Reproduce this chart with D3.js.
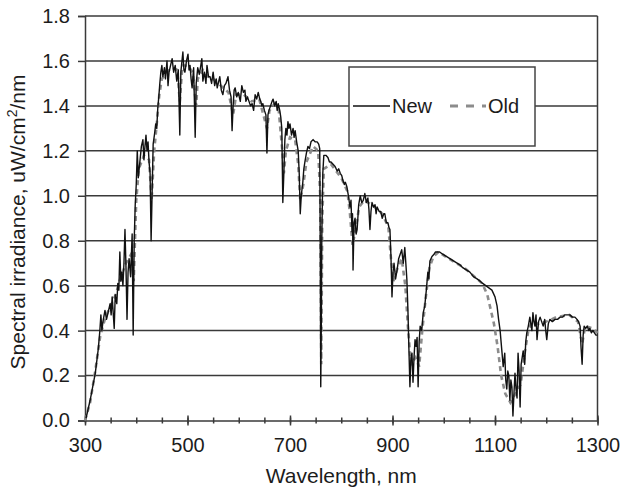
<!DOCTYPE html>
<html>
<head>
<meta charset="utf-8">
<script src="https://cdn.jsdelivr.net/npm/d3@7"></script>
<style>
	body { margin: 0; background: #fff; }
	svg { display: block; font-family: "Liberation Sans", Arial, Helvetica, sans-serif; }
</style>
</head>
<body>
<div id="chart"></div>
<script>
// Spectral irradiance, new vs. old reference spectrum
//	Data as [wavelength nm, uW/cm2/nm]

var yTicks = [0.0, 0.2, 0.4, 0.6, 0.8, 1.0, 1.2, 1.4, 1.6, 1.8];
var xMajorTicks = [300, 500, 700, 900, 1100, 1300];
var xMinorTicks = d3.range(300, 1301, 50);
var seriesNames = ["New", "Old"];

var newSeries = [
	[302,0.01],[310,0.09],[320,0.21],[326,0.32],[329,0.40],[331,0.47],[333,0.40],[335,0.44],[339,0.49],
	[342,0.45],[345,0.48],[349,0.52],[351,0.47],[353,0.55],[357,0.41],[359,0.56],[362,0.52],[364,0.61],
	[366,0.58],[368,0.75],[370,0.62],[372,0.66],[374,0.60],[376,0.70],[378,0.85],[380,0.68],[382,0.45],
	[384,0.66],[386,0.72],[389,0.64],[392,0.83],[394,0.38],[396,0.80],[398,0.96],[400,1.05],[402,1.20],
	[404,1.08],[407,1.15],[410,1.22],[413,1.25],[415,1.16],[417,1.22],[419,1.27],[421,1.20],[423,1.24],
	[425,1.15],[427,1.10],[429,0.80],[431,1.02],[433,1.23],[436,1.28],[438,1.32],[440,1.30],[442,1.39],
	[444,1.44],[446,1.50],[448,1.55],[450,1.58],[452,1.53],[455,1.57],[457,1.52],[460,1.60],[462,1.49],
	[464,1.55],[467,1.58],[470,1.61],[473,1.55],[476,1.58],[479,1.51],[482,1.56],[485,1.27],[487,1.55],
	[491,1.64],[493,1.56],[495,1.55],[498,1.60],[501,1.63],[503,1.56],[505,1.58],[507,1.52],[509,1.48],
	[512,1.57],[515,1.26],[517,1.50],[520,1.57],[523,1.54],[526,1.58],[528,1.61],[530,1.51],[533,1.55],
	[536,1.50],[538,1.58],[541,1.53],[544,1.53],[547,1.50],[550,1.55],[553,1.49],[556,1.52],[558,1.48],
	[561,1.51],[563,1.53],[566,1.47],[569,1.45],[572,1.49],[575,1.50],[579,1.53],[582,1.47],[585,1.44],
	[587,1.29],[589,1.40],[591,1.47],[593,1.48],[596,1.44],[599,1.46],[603,1.42],[606,1.49],[609,1.46],
	[612,1.47],[614,1.42],[617,1.44],[620,1.42],[623,1.40],[626,1.41],[629,1.38],[632,1.45],[635,1.43],
	[638,1.46],[641,1.43],[643,1.42],[645,1.40],[647,1.41],[650,1.38],[653,1.36],[655,1.19],[657,1.36],
	[659,1.38],[662,1.40],[665,1.42],[667,1.43],[670,1.40],[673,1.42],[675,1.38],[677,1.41],[680,1.38],
	[682,1.35],[684,1.30],[686,0.97],[688,1.10],[690,1.25],[692,1.30],[694,1.27],[696,1.33],[698,1.30],
	[700,1.32],[703,1.27],[706,1.30],[708,1.26],[710,1.29],[713,1.24],[716,1.20],[718,1.10],[720,0.92],
	[722,1.00],[725,1.06],[727,1.12],[729,1.15],[732,1.19],[735,1.22],[738,1.21],[741,1.24],[745,1.25],
	[749,1.24],[753,1.24],[756,1.23],[758,1.21],[759,0.80],[760,0.15],[761,0.40],[762,0.80],[764,1.10],
	[766,1.18],[770,1.18],[774,1.17],[777,1.15],[780,1.15],[784,1.14],[788,1.13],[792,1.11],[795,1.12],
	[798,1.10],[801,1.09],[803,1.07],[806,1.05],[808,1.06],[811,1.04],[814,1.00],[817,0.95],[819,0.98],
	[821,0.84],[822,0.92],[823,0.67],[825,0.88],[827,0.90],[829,0.83],[831,0.85],[834,0.96],[837,1.00],
	[840,0.97],[843,0.98],[846,1.01],[849,0.97],[852,0.99],[854,0.94],[856,0.85],[858,0.93],[860,0.97],
	[863,0.95],[866,0.96],[868,0.92],[870,0.95],[874,0.93],[877,0.93],[880,0.90],[883,0.92],[885,0.92],
	[888,0.88],[891,0.88],[893,0.86],[895,0.85],[897,0.73],[899,0.55],[901,0.66],[903,0.70],[906,0.63],
	[909,0.67],[912,0.72],[915,0.74],[918,0.76],[921,0.70],[924,0.77],[926,0.70],[928,0.63],[930,0.50],
	[932,0.32],[934,0.15],[936,0.28],[938,0.30],[940,0.17],[942,0.28],[944,0.36],[946,0.33],[948,0.37],
	[950,0.15],[952,0.35],[954,0.42],[957,0.40],[960,0.48],[963,0.51],[966,0.58],[969,0.66],[971,0.63],
	[973,0.71],[977,0.73],[981,0.74],[984,0.75],[987,0.75],[992,0.75],[998,0.74],[1005,0.73],[1012,0.72],
	[1019,0.71],[1026,0.70],[1033,0.69],[1037,0.68],[1044,0.67],[1051,0.66],[1058,0.64],[1065,0.63],
	[1071,0.62],[1076,0.61],[1082,0.60],[1088,0.59],[1094,0.58],[1098,0.56],[1100,0.55],[1102,0.53],
	[1104,0.51],[1107,0.45],[1110,0.40],[1113,0.32],[1116,0.24],[1119,0.30],[1121,0.18],[1123,0.14],
	[1125,0.22],[1127,0.20],[1129,0.09],[1131,0.18],[1133,0.15],[1135,0.02],[1137,0.12],[1139,0.21],
	[1141,0.14],[1143,0.10],[1145,0.30],[1147,0.22],[1149,0.06],[1151,0.25],[1153,0.28],[1155,0.31],
	[1158,0.25],[1160,0.35],[1162,0.39],[1165,0.42],[1168,0.46],[1170,0.43],[1172,0.40],[1174,0.48],
	[1176,0.44],[1178,0.42],[1180,0.47],[1182,0.36],[1185,0.44],[1188,0.46],[1191,0.44],[1194,0.42],
	[1197,0.45],[1199,0.40],[1201,0.36],[1204,0.43],[1207,0.45],[1212,0.44],[1217,0.45],[1222,0.45],
	[1227,0.46],[1232,0.46],[1236,0.47],[1241,0.47],[1246,0.47],[1251,0.46],[1256,0.46],[1260,0.45],
	[1263,0.44],[1266,0.42],[1268,0.32],[1270,0.25],[1272,0.38],[1274,0.42],[1277,0.41],[1280,0.42],
	[1283,0.40],[1285,0.41],[1288,0.39],[1291,0.40],[1294,0.39],[1297,0.38],[1300,0.38]
];

var oldSeries = [
	[300,0.00],[310,0.08],[320,0.22],[330,0.38],[340,0.46],[350,0.51],[360,0.56],[370,0.64],[380,0.70],
	[390,0.74],[395,0.62],[400,0.98],[405,1.12],[415,1.18],[425,1.16],[430,0.98],[435,1.20],[440,1.32],
	[445,1.45],[450,1.52],[460,1.55],[470,1.57],[480,1.56],[485,1.42],[490,1.58],[500,1.58],[510,1.55],
	[517,1.40],[520,1.52],[530,1.56],[540,1.53],[550,1.52],[560,1.50],[570,1.48],[580,1.46],[589,1.36],
	[595,1.45],[610,1.45],[625,1.42],[640,1.43],[655,1.30],[660,1.38],[670,1.41],[678,1.38],[685,1.20],
	[688,1.10],[692,1.20],[700,1.26],[710,1.25],[716,1.14],[720,0.98],[726,1.05],[732,1.15],[745,1.22],
	[755,1.20],[759,1.00],[761,0.25],[763,0.90],[766,1.12],[780,1.14],[800,1.08],[812,1.02],[817,0.92],
	[822,0.78],[828,0.85],[835,0.95],[845,0.98],[860,0.96],[880,0.92],[892,0.86],[897,0.72],[902,0.62],
	[910,0.68],[918,0.72],[925,0.60],[930,0.42],[936,0.25],[945,0.28],[952,0.24],[958,0.40],[965,0.55],
	[972,0.68],[980,0.73],[990,0.75],[1010,0.72],[1040,0.68],[1060,0.64],[1075,0.61],[1085,0.56],
	[1092,0.49],[1098,0.43],[1105,0.33],[1112,0.20],[1120,0.12],[1130,0.08],[1140,0.12],[1150,0.16],
	[1158,0.30],[1165,0.40],[1172,0.44],[1185,0.43],[1200,0.44],[1220,0.46],[1245,0.47],[1262,0.44],
	[1270,0.34],[1276,0.42],[1290,0.41],[1300,0.39]
];

function drawChart()
{
	var W = 622, H = 490;
	var pLeft = 85, pRight = 597.5, pTop = 16, pBottom = 420.5;
	var ink = "#1c1c1c", gridClr = "#3a3a3a";

	var svg = d3.select("#chart").append("svg")
		.attr("width", W).attr("height", H);

	svg.append("rect").attr("width", W).attr("height", H).attr("fill", "#fff");

	var x = d3.scaleLinear().domain([300, 1300]).range([pLeft, pRight]);
	var y = d3.scaleLinear().domain([0, 1.8]).range([pBottom, pTop]);

		// Horizontal gridlines (0.0 is the axis itself)
	svg.append("g").selectAll("line")
		.data(yTicks.filter(function(d) { return d > 0; }))
		.enter().append("line")
		.attr("x1", pLeft).attr("x2", pRight)
		.attr("y1", function(d) { return y(d); })
		.attr("y2", function(d) { return y(d); })
		.attr("stroke", gridClr).attr("stroke-width", 1.5);

		// Right frame edge
	svg.append("line")
		.attr("x1", pRight).attr("x2", pRight).attr("y1", pTop).attr("y2", pBottom)
		.attr("stroke", gridClr).attr("stroke-width", 1.5);

		// Y axis
	var yAxis = svg.append("g")
		.attr("transform", "translate(" + pLeft + ",0)")
		.call(d3.axisLeft(y).tickValues(yTicks).tickFormat(d3.format(".1f")).tickSize(7).tickPadding(8));
	yAxis.select(".domain").attr("stroke", gridClr).attr("stroke-width", 1.5);
	yAxis.selectAll(".tick line").attr("stroke", gridClr).attr("stroke-width", 1.5);
	yAxis.selectAll("text").attr("fill", ink).style("font-size", "20px");
	yAxis.attr("font-family", null);

		// X axis: minor ticks every 50 nm, then major ticks with labels
	var xMinor = svg.append("g")
		.attr("transform", "translate(0," + pBottom + ")")
		.call(d3.axisBottom(x).tickValues(xMinorTicks).tickSize(3).tickSizeOuter(0).tickFormat(""));
	xMinor.select(".domain").remove();
	xMinor.selectAll(".tick line").attr("y1", -3).attr("stroke", gridClr).attr("stroke-width", 1.5);

	var xAxis = svg.append("g")
		.attr("transform", "translate(0," + pBottom + ")")
		.call(d3.axisBottom(x).tickValues(xMajorTicks).tickFormat(d3.format("d"))
			.tickSize(5).tickSizeOuter(0).tickPadding(12));
	xAxis.select(".domain").attr("stroke", gridClr).attr("stroke-width", 1.5);
	xAxis.selectAll(".tick line").attr("y1", -5).attr("stroke", gridClr).attr("stroke-width", 1.5);
	xAxis.selectAll("text").attr("fill", ink).style("font-size", "20px");
	xAxis.attr("font-family", null);

		// Curves: old (dashed gray) below, new (black) on top
	var line = d3.line()
		.x(function(d) { return x(d[0]); })
		.y(function(d) { return y(d[1]); });

	svg.append("path").datum(oldSeries)
		.attr("d", line).attr("fill", "none")
		.attr("stroke", "#8c8c8c").attr("stroke-width", 2.6)
		.attr("stroke-dasharray", "5,4");

	svg.append("path").datum(newSeries)
		.attr("d", line).attr("fill", "none")
		.attr("stroke", "#111").attr("stroke-width", 1.4)
		.attr("stroke-linejoin", "round");

		// Legend box
	var lg = svg.append("g");
	lg.append("rect")
		.attr("x", 349).attr("y", 67).attr("width", 186).attr("height", 79)
		.attr("fill", "#fff").attr("stroke", "#444").attr("stroke-width", 1.5);
	lg.append("line")
		.attr("x1", 353).attr("x2", 390).attr("y1", 106).attr("y2", 106)
		.attr("stroke", "#111").attr("stroke-width", 1.3);
	lg.append("text").attr("x", 392).attr("y", 113)
		.attr("fill", ink).style("font-size", "20px").text(seriesNames[0]);
	lg.append("line")
		.attr("x1", 450).attr("x2", 486).attr("y1", 106).attr("y2", 106)
		.attr("stroke", "#8c8c8c").attr("stroke-width", 3)
		.attr("stroke-dasharray", "8,8");
	lg.append("text").attr("x", 488).attr("y", 113)
		.attr("fill", ink).style("font-size", "20px").text(seriesNames[1]);

		// Axis titles
	svg.append("text")
		.attr("x", (pLeft + pRight) / 2).attr("y", 483)
		.attr("text-anchor", "middle").attr("fill", ink).style("font-size", "21px")
		.text("Wavelength, nm");

	var yt = svg.append("text")
		.attr("transform", "translate(25,222) rotate(-90)")
		.attr("text-anchor", "middle").attr("fill", ink).style("font-size", "21px");
	yt.append("tspan").text("Spectral irradiance, uW/cm");
	yt.append("tspan").attr("dy", -8).style("font-size", "14px").text("2");
	yt.append("tspan").attr("dy", 8).text("/nm");
} // drawChart()

drawChart();
</script>
</body>
</html>
